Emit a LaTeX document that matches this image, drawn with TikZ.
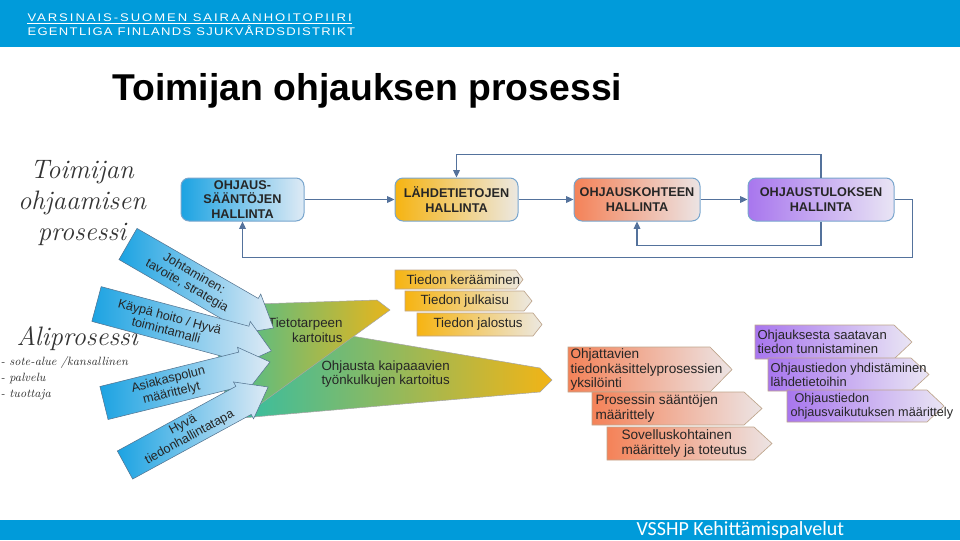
\documentclass[tikz,border=0pt]{standalone}
\usepackage{fontspec}
\newfontfamily\arialfont{Liberation Sans}
\newfontfamily\headfont{Liberation Sans}[LetterSpace=15]
\newfontfamily\headfontb{Liberation Sans}[LetterSpace=10]
\newfontfamily\calibrifont{Carlito}
\usetikzlibrary{arrows.meta}

\definecolor{vsblue}{RGB}{0,155,218}
\definecolor{flowline}{RGB}{84,114,156}
\definecolor{boxedge}{RGB}{120,165,205}
\definecolor{skyblue}{RGB}{28,163,226}
\definecolor{skypale}{RGB}{222,234,245}
\definecolor{amber}{RGB}{246,180,18}
\definecolor{amberpale}{RGB}{236,232,225}
\definecolor{coral}{RGB}{244,130,88}
\definecolor{coralpale}{RGB}{236,228,228}
\definecolor{lilac}{RGB}{168,118,238}
\definecolor{lilacpale}{RGB}{233,229,244}
\definecolor{fanteal}{RGB}{44,190,168}
\definecolor{fangreen}{RGB}{135,192,82}
\definecolor{fanyellow}{RGB}{242,180,22}
\definecolor{tagedge}{RGB}{190,165,140}

\tikzset{every picture/.style={line width=0.75pt}}
\tikzset{
  mainbox/.style={draw=boxedge, rounded corners=6pt, minimum height=32.25pt, inner sep=0pt,
    align=center, text=black!85, font=\arialfont\bfseries\fontsize{9.5}{10.9}\selectfont},
  flow/.style={draw=flowline, line width=0.9pt, -{Triangle[length=5.5pt,width=5pt]}},
  pointer/.style={draw=boxedge!70!black, line width=0.4pt, left color=skyblue, right color=skypale},
  pointertext/.style={align=center, inner sep=0pt, text=black!85, font=\arialfont\fontsize{9.5}{10.5}\selectfont},
  fan/.style={draw=black!35, line width=0.4pt},
  tag/.style={draw=tagedge, line width=0.5pt},
  tagtext/.style={anchor=west, align=left, inner sep=0pt, text=black!85, font=\arialfont\fontsize{10.2}{10.8}\selectfont},
  hand/.style={inner sep=0pt, text=black!80, font=\itshape\fontsize{20}{23}\selectfont}
}

\begin{document}
\begin{tikzpicture}[x=0.75pt,y=0.75pt,yscale=-1,xscale=1]
\useasboundingbox (0,0) rectangle (960,540);

%Banners
\fill[vsblue] (0,0) rectangle (960,47);
\fill[vsblue] (0,520) rectangle (960,540);

% Text Node
\node[anchor=base west, inner sep=0pt, text=white, font=\headfont\fontsize{8.3}{9}\selectfont] (hdrfi) at (27,21) {\scalebox{1.18}[1]{VARSINAIS-SUOMEN SAIRAANHOITOPIIRI}};
\draw[white, line width=0.6pt] ([yshift=1.8pt]hdrfi.base west) -- ([yshift=1.8pt]hdrfi.base east);
% Text Node
\node[anchor=base west, inner sep=0pt, text=white, font=\headfontb\fontsize{8.3}{9}\selectfont] (hdrsv) at (27,35) {\scalebox{1.18}[1]{EGENTLIGA FINLANDS SJUKVÅRDSDISTRIKT}};
% Text Node
\node[anchor=base west, inner sep=0pt, font=\arialfont\bfseries\fontsize{28}{34}\selectfont] (title) at (112,100) {Toimijan ohjauksen prosessi};
% Text Node
\node[anchor=base west, inner sep=0pt, text=white, font=\calibrifont\fontsize{15}{17}\selectfont] (footer) at (636,535.5) {VSSHP Kehittämispalvelut};

% Text Node
\node[hand, align=center] (toimija) at (82,203) {Toimijan\\ohjaamisen\\prosessi};
% Text Node
\node[hand, anchor=west] (ali) at (16,339) {Aliprosessi};
% Text Node
\node[anchor=north west, align=left, inner sep=0pt, text=black!80, font=\itshape\fontsize{9}{12}\selectfont] (alilist) at (0,356) {- sote-alue /kansallinen\\- palvelu\\- tuottaja};

%Main process boxes
\node[mainbox, minimum width=92.25pt, left color=skyblue, right color=skypale] (saanto) at (242.5,199.5) {OHJAUS-\\SÄÄNTÖJEN\\HALLINTA};
\node[mainbox, minimum width=92.25pt, left color=amber, right color=amberpale] (lahde) at (456.5,199.5) {LÄHDETIETOJEN\\HALLINTA};
\node[mainbox, minimum width=94.5pt, left color=coral, right color=coralpale] (kohde) at (637,199.5) {OHJAUSKOHTEEN\\HALLINTA};
\node[mainbox, minimum width=109.5pt, left color=lilac, right color=lilacpale] (tulos) at (821,199.5) {OHJAUSTULOKSEN\\HALLINTA};

%Connectors
\draw[flow] (saanto) -- (lahde);
\draw[flow] (lahde) -- (kohde);
\draw[flow] (kohde) -- (tulos);
\draw[flow] (tulos.north) -- ++(0,-23) -| (lahde.north);
\draw[flow] (tulos.south) -- ++(0,24) -| (kohde.south);
\draw[flow] (tulos.east) -- ++(18,0) -- ++(0,58) -| (saanto.south);

%Shape: green fan, lower
\draw[fan, left color=fanteal, middle color=fangreen, right color=fanyellow] (240,317) -- (540,368) -- (552,380) -- (540,392) -- (242,418) -- (224,400) -- cycle;
% Text Node
\node[anchor=west, align=left, inner sep=0pt, text=black!85, font=\arialfont\fontsize{10}{11}\selectfont] (tyonkulku) at (321,374) {Ohjausta kaipaaavien\\työnkulkujen kartoitus};
%Shape: green fan, upper
\draw[fan, left color=fanteal!80!fangreen, middle color=fangreen, right color=fanyellow!90!fangreen] (256,304) -- (377,300) -- (390,310) -- (252,410) -- (226,400) -- (218,355) -- cycle;
% Text Node
\node[anchor=east, align=right, inner sep=0pt, text=black!85, font=\arialfont\fontsize{10}{11}\selectfont] (tietotarve) at (343,330) {Tietotarpeen\\kartoitus};

%Shape: blue pointers
\begin{scope}[shift={(128,244)}, rotate=30]
\draw[pointer] (0,-18) -- (140,-18) -- (140,-23) -- (168,0) -- (140,23) -- (140,18) -- (0,18) -- cycle;
\node[pointertext, rotate=-30] (johto) at (72,0) {Johtaminen:\\tavoite, strategia};
\end{scope}
\begin{scope}[shift={(96.5,304)}, rotate=15]
\draw[pointer] (0,-18) -- (153,-18) -- (153,-23) -- (181,0) -- (153,23) -- (153,18) -- (0,18) -- cycle;
\node[pointertext, rotate=-15] (kaypa) at (74,0) {Käypä hoito / Hyvä\\toimintamalli};
\end{scope}
\begin{scope}[shift={(104,403)}, rotate=-13.9]
\draw[pointer] (0,-17) -- (143,-17) -- (143,-22) -- (171,0) -- (143,22) -- (143,17) -- (0,17) -- cycle;
\node[pointertext, rotate=13.9] (polku) at (68,0) {Asiakaspolun\\määrittelyt};
\end{scope}
\begin{scope}[shift={(125,465)}, rotate=-28.6]
\draw[pointer] (0,-16) -- (135,-16) -- (135,-21) -- (163,0) -- (135,21) -- (135,16) -- (0,16) -- cycle;
\node[pointertext, rotate=28.6] (hallinta) at (70,0) {Hyvä\\tiedonhallintatapa};
\end{scope}

%Shape: source data tags
\draw[tag, left color=amber, right color=amberpale] (395,270) -- (516,270) -- (523,279.5) -- (516,289) -- (395,289) -- cycle;
\node[tagtext, font=\arialfont\fontsize{10}{11}\selectfont] (keruu) at (406,279.5) {Tiedon kerääminen};
\draw[tag, left color=amber, right color=amberpale] (405,291) -- (524,291) -- (532,301) -- (524,311) -- (405,311) -- cycle;
\node[tagtext, font=\arialfont\fontsize{10}{11}\selectfont] (julkaisu) at (420,301) {Tiedon julkaisu};
\draw[tag, left color=amber, right color=amberpale] (417,313) -- (533,313) -- (542,324.5) -- (533,336) -- (417,336) -- cycle;
\node[tagtext, font=\arialfont\fontsize{10}{11}\selectfont] (jalostus) at (433,324.5) {Tiedon jalostus};

%Shape: target tags
\draw[tag, left color=coral, right color=coralpale] (568,347) -- (710,347) -- (732,369.5) -- (710,392) -- (568,392) -- cycle;
\node[tagtext] (yksilointi) at (570,369.5) {Ohjattavien\\tiedonkäsittelyprosessien\\yksilöinti};
\draw[tag, left color=coral, right color=coralpale] (592,392) -- (744,392) -- (762,408.5) -- (744,425) -- (592,425) -- cycle;
\node[tagtext] (saannot) at (595,408.5) {Prosessin sääntöjen\\määrittely};
\draw[tag, left color=coral, right color=coralpale] (607,427) -- (754,427) -- (772,443.5) -- (754,460) -- (607,460) -- cycle;
\node[tagtext] (toteutus) at (621,443.5) {Sovelluskohtainen\\määrittely ja toteutus};

%Shape: result tags
\draw[tag, left color=lilac, right color=lilacpale] (755,325) -- (894,325) -- (912,342) -- (894,359) -- (755,359) -- cycle;
\node[tagtext, font=\arialfont\fontsize{9.8}{10.6}\selectfont] (tunnistus) at (757,342) {Ohjauksesta saatavan\\tiedon tunnistaminen};
\draw[tag, left color=lilac, right color=lilacpale] (768,358) -- (911,358) -- (929,374.5) -- (911,391) -- (768,391) -- cycle;
\node[tagtext, font=\arialfont\fontsize{9.7}{10.6}\selectfont] (yhdistys) at (770,374.5) {Ohjaustiedon yhdistäminen\\lähdetietoihin};
\draw[tag, left color=lilac, right color=lilacpale] (787,390) -- (927,390) -- (944,406) -- (927,422) -- (787,422) -- cycle;
\node[tagtext, font=\arialfont\fontsize{9.5}{10.6}\selectfont] (vaikutus) at (790,406) {\hspace*{3pt}Ohjaustiedon\\ohjausvaikutuksen määrittely};

\end{tikzpicture}
\end{document}
